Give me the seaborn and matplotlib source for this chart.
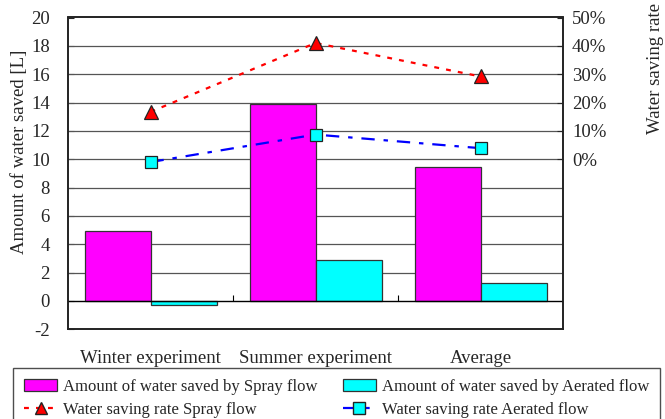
import numpy as np
import pandas as pd
import matplotlib
matplotlib.use("Agg")
import matplotlib.pyplot as plt
import seaborn as sns
from matplotlib.patches import Patch
from matplotlib.lines import Line2D
from matplotlib.ticker import FuncFormatter

categories = ["Winter experiment", "Summer experiment", "Average"]
spray_amount = [4.95, 13.9, 9.45]
aerated_amount = [-0.3, 2.9, 1.27]
spray_rate = [16.7, 41.0, 29.2]
aerated_rate = [-1.0, 8.7, 3.9]
left_ticks = list(range(-2, 21, 2))
right_ticks = [0, 10, 20, 30, 40, 50]

sns.set_style("white")
plt.rcParams["font.family"] = ["Liberation Serif", "DejaVu Serif"]

fig = plt.figure(figsize=(6.65, 4.19), dpi=100)
ax = fig.add_axes([68 / 665, 1 - 329.3 / 419, (563 - 68) / 665, (329.3 - 17.5) / 419])

df = pd.DataFrame({
    "cat": categories * 2,
    "val": spray_amount + aerated_amount,
    "series": ["Spray"] * 3 + ["Aerated"] * 3,
})
sns.barplot(data=df, x="cat", y="val", hue="series", order=categories,
            hue_order=["Spray", "Aerated"],
            palette={"Spray": "#FF00FF", "Aerated": "#00FFFF"},
            saturation=1, width=0.8, edgecolor="#333333", linewidth=0.9,
            legend=False, ax=ax, zorder=3)

ax.set_xlim(-0.5, 2.5)
ax.set_ylim(-2, 20)
ax.set_yticks(left_ticks)
ax.set_yticklabels([str(t) for t in left_ticks])
ax.grid(False)
for t in left_ticks[1:-1]:
    if t == 0:
        continue
    ax.axhline(t, color="#555555", lw=0.9, zorder=1)
ax.axhline(0, color="black", lw=1.0, zorder=4)
ax.vlines([0.5, 1.5], 0, 0.45, color="black", lw=0.8, zorder=4)
ax.set_xlabel("")
ax.set_ylabel("")
ax.tick_params(axis="x", length=0, pad=15, labelsize=13.5)
ax.tick_params(axis="y", direction="in", length=4, pad=13, labelsize=13.5)
for s in ax.spines.values():
    s.set_color("#222222")
    s.set_linewidth(1.2)
    s.set_visible(True)

ax2 = ax.twinx()
ax2.set_ylim(-60, 50)
x_pos = np.arange(len(categories))
sns.lineplot(x=x_pos, y=spray_rate, ax=ax2, color="red", lw=1.6,
             linestyle=(0, (2.2, 3.2)), marker="^", markersize=10,
             markerfacecolor="red", markeredgecolor="#222222", markeredgewidth=0.9)
sns.lineplot(x=x_pos, y=aerated_rate, ax=ax2, color="blue", lw=1.6,
             linestyle=(0, (6, 4, 2, 4)), marker="s", markersize=9,
             markerfacecolor="#00FFFF", markeredgecolor="#222222", markeredgewidth=0.9)
ax2.set_yticks(right_ticks)
ax2.yaxis.set_major_formatter(FuncFormatter(lambda v, p: f"{int(v)}%"))
ax2.tick_params(axis="y", direction="in", length=4, pad=6.5, labelsize=13.5)
ax2.set_xlim(-0.5, 2.5)
ax2.grid(False)
for s in ax2.spines.values():
    s.set_color("#222222")
    s.set_linewidth(1.2)

fig.text(20 / 665, 1 - 152 / 419, "Amount of water saved [L]", rotation=90,
         ha="center", va="center", fontsize=13.5)
fig.text(655 / 665, 1 - 68 / 419, "Water saving rate", rotation=90,
         ha="center", va="center", fontsize=13.5)

handles = [
    Patch(facecolor="#FF00FF", edgecolor="#333333", lw=0.9),
    Line2D([], [], color="red", lw=1.6, linestyle=(0, (2.2, 3.2)), marker="^",
           markersize=9, markerfacecolor="red", markeredgecolor="#222222"),
    Patch(facecolor="#00FFFF", edgecolor="#333333", lw=0.9),
    Line2D([], [], color="blue", lw=1.6, linestyle=(0, (6, 4, 2, 4)), marker="s",
           markersize=8, markerfacecolor="#00FFFF", markeredgecolor="#222222"),
]
labels = ["Amount of water saved by Spray flow", "Water saving rate Spray flow",
          "Amount of water saved by Aerated flow", "Water saving rate Aerated flow"]
leg = fig.legend(handles, labels, ncol=2, loc="upper left",
                 bbox_to_anchor=(13 / 665, 1 - 372 / 419, (660 - 13) / 665, 0.01),
                 mode="expand", fontsize=12, frameon=True, fancybox=False,
                 edgecolor="#222222", borderpad=0.65, handlelength=2.0,
                 handletextpad=0.35, labelspacing=0.42, columnspacing=1.0,
                 borderaxespad=0)
leg.get_frame().set_linewidth(1.0)

fig.savefig("out.png", dpi=100)
